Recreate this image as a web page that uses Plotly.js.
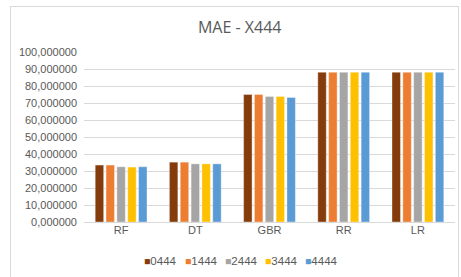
<!DOCTYPE html>
<html><head><meta charset="utf-8">
<script src="https://cdn.plot.ly/plotly-3.0.1.min.js"></script>
<style>
html,body{margin:0;padding:0;background:#fff;}
#wrap{position:relative;width:461px;height:277px;}
#chart{width:461px;height:277px;}
#frame{position:absolute;left:10px;top:6px;width:449px;height:275px;border:1px solid #D9D9D9;pointer-events:none;box-sizing:border-box;}
</style>
</head><body>
<div id="wrap"><div id="chart"></div><div id="frame"></div></div>
<script>
const categories = ["RF", "DT", "GBR", "RR", "LR"];
const seriesNames = ["0444", "1444", "2444", "3444", "4444"];
const s0444 = [33.5, 35.2, 75.0, 88.1, 88.1];
const s1444 = [33.5, 35.2, 75.0, 88.1, 88.1];
const s2444 = [32.5, 34.2, 73.8, 88.1, 88.1];
const s3444 = [32.3, 34.2, 73.8, 88.1, 88.1];
const s4444 = [32.5, 34.2, 73.3, 88.1, 88.1];
const colors = ["#843C0C", "#ED7D31", "#A5A5A5", "#FFC000", "#5B9BD5"];
const allSeries = [s0444, s1444, s2444, s3444, s4444];

const traces = allSeries.map((vals, i) => ({
  type: "bar",
  name: seriesNames[i],
  x: categories,
  y: vals,
  marker: {color: colors[i], line: {color: "rgba(255,255,255,0.6)", width: 0.6}},
  hoverinfo: "none"
}));

// Legend entries laid out as annotations (position only; content from arrays)
const legendStart = 0.157, legendStep = 0.1086;
const legendAnns = seriesNames.map((n, i) => ({
  xref: "paper", yref: "paper", x: legendStart + i * legendStep, y: -0.229,
  xanchor: "left", yanchor: "middle", showarrow: false,
  text: '<span style="color:' + colors[i] + ';font-size:10.5px">■</span>' + n,
  font: {size: 11.5, color: "#595959"}
}));

const layout = {
  width: 461, height: 277,
  margin: {l: 84, r: 6, t: 52, b: 55},
  paper_bgcolor: "#fff", plot_bgcolor: "#fff",
  separators: ",.",
  font: {family: "Liberation Sans, Arial, sans-serif", size: 11, color: "#595959"},
  title: {text: "MAE - X444", x: 0.52, xanchor: "center", y: 0.9, yanchor: "middle",
          font: {family: "Open Sans, Liberation Sans, sans-serif", size: 16, color: "#595959"}},
  barmode: "group",
  bargap: 0.27,
  bargroupgap: 0.22,
  xaxis: {showgrid: false, showline: false, ticks: "", zeroline: false, automargin: false,
          tickfont: {size: 11, color: "#595959"}, ticklen: 0},
  yaxis: {range: [0, 100], dtick: 10, tick0: 0, tickformat: ".6f", automargin: false,
          showgrid: true, gridcolor: "#D9D9D9", gridwidth: 1, zeroline: true, zerolinecolor: "#D9D9D9",
          zerolinewidth: 1, showline: false, ticks: "", ticklabelstandoff: 6,
          tickfont: {size: 11, color: "#595959"}},
  showlegend: false,
  annotations: legendAnns
};
Plotly.newPlot("chart", traces, layout, {staticPlot: true, displayModeBar: false});
</script>
</body></html>
